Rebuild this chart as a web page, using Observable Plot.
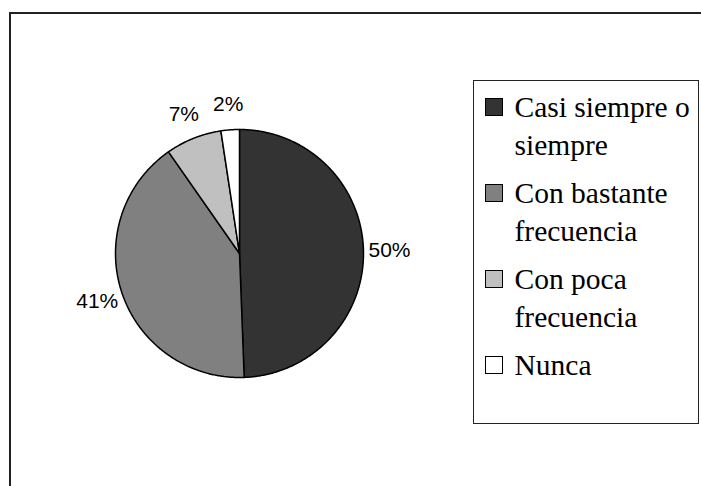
<!DOCTYPE html>
<html><head><meta charset="utf-8">
<script src="https://cdn.jsdelivr.net/npm/d3@7"></script>
<script src="https://cdn.jsdelivr.net/npm/@observablehq/plot@0.6"></script>
<style>
html,body{margin:0;padding:0;background:#fff;}
#wrap{position:relative;width:701px;height:486px;overflow:hidden;background:#fff;}
#wrap svg{position:absolute;left:0;top:0;}
#border{position:absolute;left:9px;top:12px;width:800px;height:600px;border-top:2px solid #222;border-left:2px solid #222;}
#legend{position:absolute;left:473px;top:80px;width:226px;height:344px;box-sizing:border-box;border:1.5px solid #222;padding-top:6.5px;font-family:"Liberation Serif","Times New Roman",serif;font-size:29.5px;line-height:38px;color:#000;background:#fff;}
.item{position:relative;padding-left:40.5px;margin-bottom:10px;}
.sw{position:absolute;left:10.5px;top:10px;width:16px;height:16px;border:1.5px solid #000;}
</style>
</head><body>
<div id="wrap"><div id="border"></div></div>
<script>
const categories = ["Casi siempre o siempre","Con bastante frecuencia","Con poca frecuencia","Nunca"];
const legendLines = [["Casi siempre o","siempre"],["Con bastante","frecuencia"],["Con poca","frecuencia"],["Nunca"]];
const values = [49.4, 40.9, 7.3, 2.4];
const percentLabels = ["50%","41%","7%","2%"];
const colors = ["#333333","#808080","#c0c0c0","#ffffff"];

const arcs = d3.pie().sort(null).value(d => d)(values);
const pts = [];
arcs.forEach((a, i) => {
  const n = Math.max(2, Math.ceil((a.endAngle - a.startAngle) / (Math.PI / 360)));
  pts.push({cat: categories[i], x: 0, y: 0});
  for (let k = 0; k <= n; k++) {
    const t = a.startAngle + (a.endAngle - a.startAngle) * k / n;
    pts.push({cat: categories[i], x: Math.sin(t), y: -Math.cos(t)});
  }
  pts.push({cat: categories[i], x: 0, y: 0});
});
const labels = arcs.map((a, i) => {
  const m = (a.startAngle + a.endAngle) / 2;
  return {text: percentLabels[i], x: 1.21 * Math.sin(m), y: -1.21 * Math.cos(m)};
});

const chart = Plot.plot({
  width: 701, height: 486, margin: 0,
  style: {background: "transparent"},
  x: {domain: [-1, 1], range: [115, 363], axis: null},
  y: {domain: [-1, 1], range: [129, 377], axis: null},
  color: {domain: categories, range: colors},
  marks: [
    Plot.line(pts, {x: "x", y: "y", z: "cat", fill: "cat", stroke: "#000", strokeWidth: 1.5, strokeLinejoin: "round"}),
    Plot.text(labels, {x: "x", y: "y", text: "text", fontSize: 21, fontFamily: "Liberation Sans, Arial, sans-serif", fill: "#000"})
  ]
});
document.getElementById("wrap").appendChild(chart);

const legend = d3.select("#wrap").append("div").attr("id", "legend");
legendLines.forEach((lines, i) => {
  const item = legend.append("div").attr("class", "item");
  item.append("span").attr("class", "sw").style("background", colors[i]);
  const txt = item.append("div");
  lines.forEach(l => txt.append("div").text(l));
});
</script>
</body></html>
